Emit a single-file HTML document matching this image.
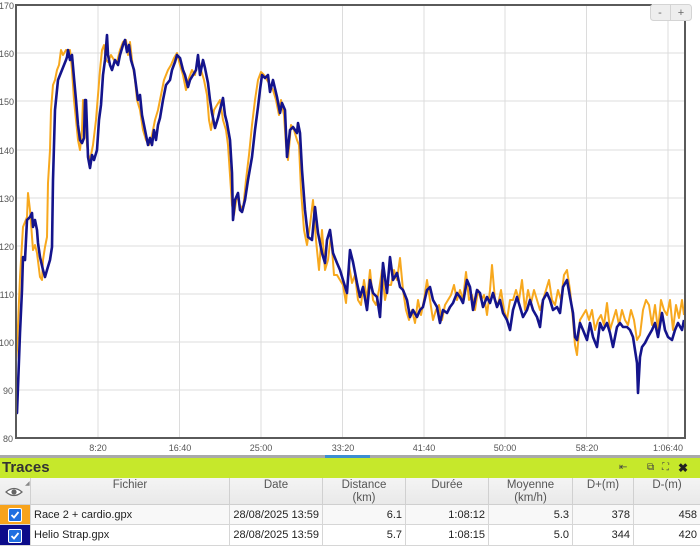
<!DOCTYPE html>
<html><head><meta charset="utf-8">
<style>
html,body{margin:0;padding:0;background:#fff;}
body{width:700px;height:546px;overflow:hidden;position:relative;font-family:"Liberation Sans",Arial,sans-serif;}
.abs{position:absolute;}
.hdr{position:absolute;top:478px;height:27px;background:linear-gradient(#f4f4f4,#e9e9e9);border-right:1px solid #d0d0d0;border-bottom:1px solid #cfcfcf;box-sizing:border-box;color:#555;font-size:11.5px;text-align:center;line-height:13px;padding-top:1px;}
.cell{position:absolute;height:20px;box-sizing:border-box;border-right:1px solid #d6d6d6;border-bottom:1px solid #d6d6d6;font-size:11px;color:#222;line-height:20px;padding:0 3px;white-space:nowrap;overflow:hidden;}
.r{text-align:right;}
.cb{position:absolute;left:8px;top:3px;width:14px;height:14px;background:#1f6fe0;border-radius:2px;border:1px solid #fff;box-sizing:border-box;}
</style></head><body>
<svg class="abs" style="left:0;top:0" width="700" height="458" viewBox="0 0 700 458">
<g stroke="#dcdcdc" stroke-width="1">
<line x1="16" y1="53" x2="685" y2="53"/><line x1="16" y1="101" x2="685" y2="101"/><line x1="16" y1="150" x2="685" y2="150"/><line x1="16" y1="198" x2="685" y2="198"/><line x1="16" y1="246" x2="685" y2="246"/><line x1="16" y1="294" x2="685" y2="294"/><line x1="16" y1="342" x2="685" y2="342"/><line x1="16" y1="390" x2="685" y2="390"/>
<line x1="98" y1="5" x2="98" y2="438"/><line x1="179.5" y1="5" x2="179.5" y2="438"/><line x1="261" y1="5" x2="261" y2="438"/><line x1="342.5" y1="5" x2="342.5" y2="438"/><line x1="424" y1="5" x2="424" y2="438"/><line x1="505" y1="5" x2="505" y2="438"/><line x1="586.5" y1="5" x2="586.5" y2="438"/><line x1="668" y1="5" x2="668" y2="438"/>
</g>
<polyline fill="none" stroke="#f7a81e" stroke-width="2" stroke-linejoin="round" points="16,360 17,350 20,277 23,227 25,222 27,217 28,193 30,210 33,250 35,245 37,253 40,277 42,280 43,260 45,247 47,237 48,183 50,150 51,110 53,85 55,80 57,70 59,65 61,50 63,55 66,50 68,50 70,50 72,70 74,100 76,120 78,140 80,150 82,130 83,100 85,110 87,145 89,160 91,155 93,145 96,120 98,95 100,70 102,50 104,45 106,60 108,62 111,55 114,60 117,62 120,50 123,42 126,40 128,55 130,42 132,60 135,80 137,100 140,110 143,130 146,140 149,145 152,135 155,120 158,110 161,95 164,80 168,70 171,65 174,58 177,53 180,65 183,75 186,90 189,78 192,70 195,75 198,58 201,70 204,80 207,95 209,120 211,130 214,110 217,105 220,100 223,120 226,130 228,145 230,175 232,205 234,215 237,195 240,205 243,210 246,180 249,155 252,125 255,100 258,80 261,72 264,75 267,80 270,85 273,90 276,100 279,115 281,100 284,115 286,145 288,160 291,125 294,130 297,140 299,145 301,190 304,230 307,245 310,225 313,200 316,240 319,270 322,230 325,270 328,260 331,235 334,275 337,275 340,280 343,285 346,303 349,265 352,283 355,275 358,300 361,305 364,280 367,300 370,270 373,300 376,305 379,290 382,270 385,300 388,285 391,285 394,270 397,280 400,258 403,290 406,310 409,320 412,310 415,323 418,300 421,315 424,300 427,280 430,300 433,320 436,310 439,305 442,320 445,305 448,300 451,295 454,285 457,300 460,290 463,300 466,272 469,300 472,295 475,310 478,290 481,300 484,295 487,315 490,290 492,265 495,300 498,305 501,290 504,310 507,320 510,300 513,300 516,290 519,300 522,280 525,310 528,290 531,303 534,290 537,300 540,310 543,300 546,290 549,280 552,300 555,305 558,290 561,300 564,275 567,270 570,290 573,320 575,345 577,355 580,320 583,315 586,310 589,320 592,310 595,330 598,320 601,315 604,325 607,303 610,330 613,320 616,310 619,325 622,310 625,320 628,325 631,310 634,320 637,340 640,335 643,310 646,300 649,305 652,325 655,305 658,330 661,300 664,310 667,315 670,300 673,330 676,305 679,318 682,300 684,315"/>
<polyline fill="none" stroke="#14148c" stroke-width="2.6" stroke-linejoin="round" points="16,412 17,413 19,360 20,333 22,290 23,257 25,260 27,220 30,217 32,213 33,227 35,220 37,230 38,243 40,257 43,270 45,277 47,270 50,260 52,247 53,180 55,110 58,80 60,75 62,70 64,65 66,60 67,57 68,50 70,60 72,55 74,78 76,100 78,125 80,140 82,143 84,138 85,100 86,100 88,157 90,168 92,155 94,160 97,150 99,120 101,105 103,75 105,60 107,35 108,55 110,65 112,70 115,60 118,65 120,55 123,45 125,40 127,52 129,45 131,60 134,70 136,85 138,100 140,95 142,115 144,125 146,135 148,145 150,138 152,145 154,130 156,140 158,125 160,118 163,100 166,85 170,80 172,70 175,62 177,55 180,58 183,70 185,75 188,87 190,80 193,75 196,70 198,55 200,75 203,60 205,68 208,83 210,100 212,113 215,128 218,118 220,110 223,98 225,115 227,123 230,140 232,173 233,220 235,200 238,193 240,210 242,212 245,200 248,180 252,157 255,130 258,107 260,90 262,75 265,78 268,75 270,92 273,80 277,97 280,113 282,103 285,110 287,157 290,130 293,127 297,133 298,123 300,133 302,170 305,210 308,237 312,240 315,207 318,233 322,253 325,263 327,240 330,230 333,253 337,263 340,270 343,280 347,293 350,250 353,262 357,283 360,297 363,287 367,310 370,280 373,293 377,297 380,317 383,263 387,293 390,257 393,280 397,273 400,287 403,290 407,300 410,317 413,310 417,317 420,310 423,307 427,290 430,287 433,300 437,307 440,323 443,310 447,313 450,307 453,303 457,293 460,297 463,303 467,280 470,287 473,310 477,290 480,293 483,307 487,297 490,303 493,293 497,307 500,300 503,313 507,320 510,330 513,310 517,297 520,307 523,317 527,310 530,300 533,310 537,317 540,327 543,300 547,293 550,300 553,310 557,307 560,313 563,287 567,280 570,297 573,313 575,337 577,340 580,323 583,330 587,340 590,323 593,337 597,347 600,323 603,330 607,323 610,333 613,347 617,327 620,323 623,327 627,327 630,330 633,337 637,363 638,393 640,357 642,347 645,343 648,337 652,330 655,323 658,337 662,313 665,330 668,337 672,340 675,330 678,323 682,330 684,320"/>
<g stroke="#5a5a5a" stroke-width="2" fill="none">
<line x1="16" y1="5" x2="652" y2="5"/>
<line x1="16" y1="4" x2="16" y2="439"/>
<line x1="15" y1="438" x2="686" y2="438"/>
<line x1="685" y1="20" x2="685" y2="439"/>
</g>
<rect x="650.5" y="4.5" width="41" height="16" rx="3" fill="#eeeeee" stroke="#d4d4d4"/>
<line x1="670.5" y1="5" x2="670.5" y2="20" stroke="#d4d4d4"/>
<text x="660" y="16" font-size="11" fill="#666" text-anchor="middle" font-family="Liberation Sans, Arial, sans-serif">-</text>
<text x="681" y="16" font-size="11" fill="#666" text-anchor="middle" font-family="Liberation Sans, Arial, sans-serif">+</text>
<g font-family="Liberation Sans, Arial, sans-serif" font-size="9" fill="#555" text-anchor="end">
<text x="14" y="9">170</text><text x="14" y="57">160</text><text x="14" y="105">150</text><text x="14" y="154">140</text><text x="14" y="202">130</text><text x="14" y="250">120</text><text x="14" y="298">110</text><text x="14" y="346">100</text><text x="13" y="394">90</text><text x="13" y="442">80</text>
</g>
<g font-family="Liberation Sans, Arial, sans-serif" font-size="9" fill="#555" text-anchor="middle">
<text x="98" y="451">8:20</text><text x="180" y="451">16:40</text><text x="261" y="451">25:00</text><text x="343" y="451">33:20</text><text x="424" y="451">41:40</text><text x="505" y="451">50:00</text><text x="587" y="451">58:20</text><text x="668" y="451">1:06:40</text>
</g>
<rect x="0" y="455" width="700" height="3" fill="#a9a9a9"/>
<rect x="325" y="455" width="45" height="3" fill="#3d8ed0"/>
</svg>

<div class="abs" style="left:0;top:458px;width:700px;height:20px;background:#c6e82b;"></div>
<div class="abs" style="left:2px;top:459px;font-size:15px;font-weight:bold;color:#333;line-height:18px;">Traces</div>
<div class="abs" style="left:619px;top:461px;font-size:10px;color:#444;line-height:14px;">⇤</div>
<div class="abs" style="left:647px;top:461px;font-size:10px;color:#444;line-height:14px;">⧉</div>
<div class="abs" style="left:662px;top:461px;font-size:10px;color:#444;line-height:14px;">⛶</div>
<div class="abs" style="left:678px;top:460px;font-size:12px;color:#222;line-height:16px;font-weight:bold;">✖</div>

<div class="hdr" style="left:0;width:31px;"></div>
<svg class="abs" style="left:5px;top:486px" width="18" height="12" viewBox="0 0 18 12"><path d="M1,6 Q9,-1 17,6 Q9,13 1,6Z" fill="#fff" stroke="#666" stroke-width="1.2"/><circle cx="9" cy="6" r="2.6" fill="#666"/></svg>
<div class="abs" style="left:25px;top:480px;font-size:6px;color:#888;">◢</div>
<div class="hdr" style="left:31px;width:199px;">Fichier</div>
<div class="hdr" style="left:230px;width:93px;">Date</div>
<div class="hdr" style="left:323px;width:83px;">Distance<br>(km)</div>
<div class="hdr" style="left:406px;width:83px;">Durée</div>
<div class="hdr" style="left:489px;width:84px;">Moyenne<br>(km/h)</div>
<div class="hdr" style="left:573px;width:61px;">D+(m)</div>
<div class="hdr" style="left:634px;width:66px;border-right:none;">D-(m)</div>

<div class="cell" style="left:0;top:505px;width:31px;background:#f7a31c;"><div class="cb"><svg width="12" height="12" viewBox="0 0 12 12" style="position:absolute;left:0;top:0"><path d="M2.5,6 L5,8.5 L9.5,3" fill="none" stroke="#fff" stroke-width="1.8"/></svg></div></div>
<div class="cell" style="left:31px;top:505px;width:199px;background:#f8f8f8;">Race 2 + cardio.gpx</div>
<div class="cell r" style="left:230px;top:505px;width:93px;background:#f8f8f8;">28/08/2025 13:59</div>
<div class="cell r" style="left:323px;top:505px;width:83px;background:#f8f8f8;">6.1</div>
<div class="cell r" style="left:406px;top:505px;width:83px;background:#f8f8f8;">1:08:12</div>
<div class="cell r" style="left:489px;top:505px;width:84px;background:#f8f8f8;">5.3</div>
<div class="cell r" style="left:573px;top:505px;width:61px;background:#f8f8f8;">378</div>
<div class="cell r" style="left:634px;top:505px;width:66px;background:#f8f8f8;border-right:none;">458</div>

<div class="cell" style="left:0;top:525px;width:31px;height:21px;background:#0b0b8a;"><div class="cb" style="top:4px"><svg width="12" height="12" viewBox="0 0 12 12" style="position:absolute;left:0;top:0"><path d="M2.5,6 L5,8.5 L9.5,3" fill="none" stroke="#fff" stroke-width="1.8"/></svg></div></div>
<div class="cell" style="left:31px;top:525px;width:199px;height:21px;">Helio Strap.gpx</div>
<div class="cell r" style="left:230px;top:525px;width:93px;height:21px;">28/08/2025 13:59</div>
<div class="cell r" style="left:323px;top:525px;width:83px;height:21px;">5.7</div>
<div class="cell r" style="left:406px;top:525px;width:83px;height:21px;">1:08:15</div>
<div class="cell r" style="left:489px;top:525px;width:84px;height:21px;">5.0</div>
<div class="cell r" style="left:573px;top:525px;width:61px;height:21px;">344</div>
<div class="cell r" style="left:634px;top:525px;width:66px;height:21px;border-right:none;">420</div>
</body></html>
